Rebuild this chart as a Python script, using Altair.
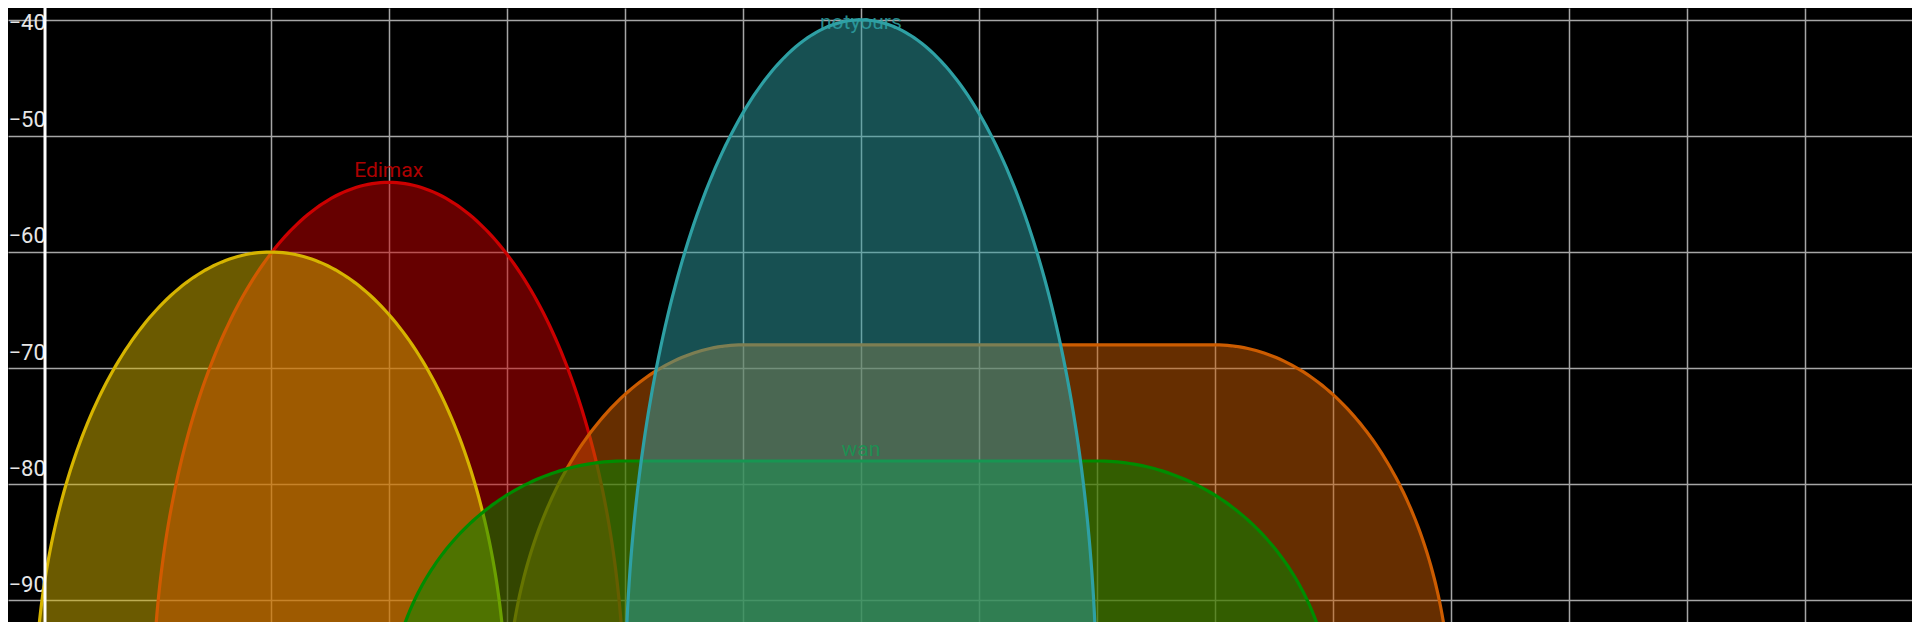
import altair as alt
import pandas as pd

# ---- Wi-Fi networks (drawing order: bottom -> top) ----
names    = ["Edimax", "", "", "wan", "notyours"]
channels = [2, 1, 7, 6, 6]              # centre channel
widths   = [20, 20, 40, 40, 20]         # channel width, MHz
levels   = [-54, -60, -68, -78, -40]    # signal, dBm
colors   = ["#cc0000", "#d6b400", "#cc5c00", "#008c00", "#2ea0a4"]

# ---- axes ----
y_ticks = [-90, -80, -70, -60, -50, -40]
x_grid  = list(range(1, 15))

FLOOR = -100          # dBm floor of the spectrum shape
MHZ_PER_CH = 5
X_DOMAIN = [-0.911, 14.904]
Y_DOMAIN = [-91.869, -38.984]

GRID = "#a6a6a6"

df = pd.DataFrame({"id": list(range(len(names))), "name": names, "ch": channels,
                   "mhz": widths, "level": levels})

xs = alt.Scale(domain=X_DOMAIN, nice=False, zero=False)
ys = alt.Scale(domain=Y_DOMAIN, nice=False, zero=False)
xaxis = alt.Axis(values=x_grid, grid=True, gridColor=GRID, gridWidth=1.5,
                 labels=False, ticks=False, domain=False, title=None)
yaxis = alt.Axis(values=y_ticks, grid=True, gridColor=GRID, gridWidth=1.5,
                 domain=False, ticks=True, tickSize=37, tickColor=GRID, tickWidth=1.5,
                 labelAlign="left", labelPadding=0, labelBaseline="alphabetic",
                 # the top label is nudged so that it stays inside the picture
                 labelOffset={"condition": {"test": f"datum.value == {max(y_ticks)}",
                                            "value": 9.5}, "value": -9},
                 labelColor="#e6e6e6", labelFontSize=22,
                 labelFont="Roboto", labelOverlap=False, title=None)

# spectrum mask: elliptical shoulders 10 MHz wide, flat top for wider channels
shape = alt.Chart(df).transform_calculate(
    t="sequence(0, 182)"
).transform_flatten(["t"]).transform_calculate(
    side="datum.t <= 90 ? -1 : 1",
    theta="(datum.t <= 90 ? datum.t : datum.t - 1) * PI / 180",
    flat=f"(datum.mhz / 2 - 10) / {MHZ_PER_CH}",
    shoulder=f"10 / {MHZ_PER_CH}",
).transform_calculate(
    x="datum.ch + datum.side * datum.flat - datum.shoulder * cos(datum.theta)",
    y=f"{FLOOR} + (datum.level - ({FLOOR})) * sin(datum.theta)",
)

layers = []
for i in range(len(names)):
    layers.append(
        shape.transform_filter(alt.datum.id == i).mark_area(
            fill=colors[i], fillOpacity=0.5, stroke=colors[i], strokeWidth=3.2
        ).encode(
            x=alt.X("x:Q", scale=xs, axis=xaxis),
            y=alt.Y("y:Q", scale=ys, axis=yaxis),
            y2=alt.datum(FLOOR),
        )
    )
    if names[i]:
        layers.append(
            alt.Chart(df).transform_filter(alt.datum.id == i).transform_calculate(
                # keep the label inside the picture
                label_y=f"min(datum.level, {Y_DOMAIN[1]} - 2.2)"
            ).mark_text(
                dy=-5, align="center", baseline="alphabetic", fontSize=21,
                font="Roboto", color=colors[i], opacity=0.85
            ).encode(
                x=alt.X("ch:Q", scale=xs, axis=xaxis),
                y=alt.Y("label_y:Q", scale=ys, axis=yaxis),
                text="name:N",
            )
        )

axis_line = alt.Chart(pd.DataFrame({"x": [X_DOMAIN[0]]})).mark_rule(
    color="white", strokeWidth=3
).encode(x=alt.X("x:Q", scale=xs, axis=xaxis))
layers.append(axis_line)

chart = alt.layer(*layers).properties(
    width=1867, height=614,
    padding={"left": 37, "top": 0, "right": 0, "bottom": 0},
    autosize=alt.AutoSizeParams(type="none"),
    background="black",
).configure_view(strokeWidth=0)

chart.save("out.html", embed_options={"renderer": "svg", "actions": False})
